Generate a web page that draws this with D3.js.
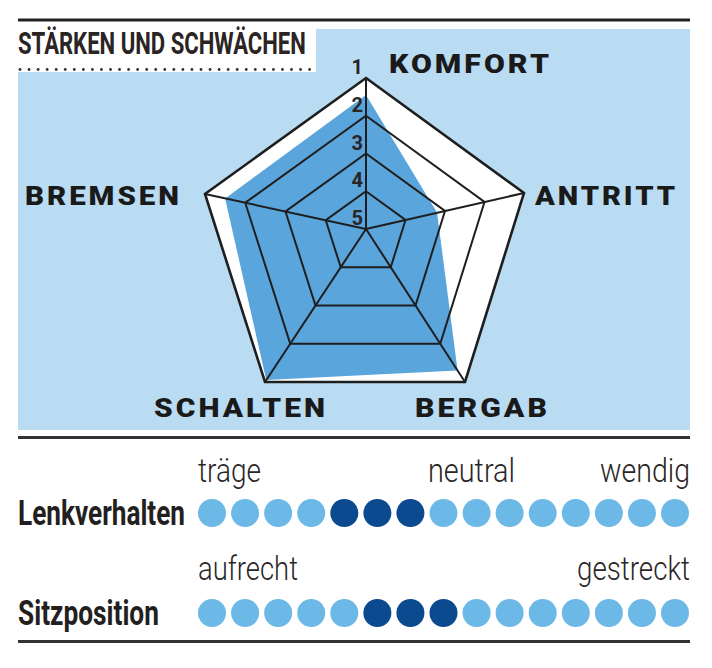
<!DOCTYPE html>
<html><head><meta charset="utf-8">
<script src="https://cdn.jsdelivr.net/npm/d3@7"></script>
<style>
html,body{margin:0;padding:0;background:#fff;}
svg{display:block;}
</style></head>
<body>
<svg id="c" width="712" height="668"></svg>
<script>
// ---- data ----
const title = "STÄRKEN UND SCHWÄCHEN";
const axes = ["KOMFORT", "ANTRITT", "BERGAB", "SCHALTEN", "BREMSEN"];
const scores = [1.45, 3.2, 1.3, 1.05, 1.5];           // 1 = best, 5 = worst
const gradeTicks = [1, 2, 3, 4, 5];
const rows = ["Lenkverhalten", "Sitzposition"];
const rowScaleLabels = [["träge", "neutral", "wendig"], ["aufrecht", "gestreckt"]];
const dotCount = 15;
const activeDots = [[4, 5, 6], [5, 6, 7]];

// ---- layout ----
const svg = d3.select("#c");
const L = 18, R = 690;
const cx = 366, cy = 229;
// outer vertex offsets of each axis (pentagon as drawn in the reference)
const axisVec = [[0, -151], [158, -36], [99, 153], [-101, 153], [-161, -35]];
const rs = d3.scaleLinear().domain([1, 5]).range([1, 0]);
const pt = (i, v) => [cx + axisVec[i][0] * rs(v), cy + axisVec[i][1] * rs(v)];
const line = d3.line().curve(d3.curveLinearClosed);

// draws a text squeezed horizontally to a given width
function fitText(parent, str, x, y, width, anchor, attrs) {
  const t = parent.append("text").text(str);
  Object.entries(attrs).forEach(([k, v]) => t.attr(k, v));
  const w = t.node().getComputedTextLength();
  const s = width / w;
  const x0 = anchor === "end" ? x - width : x;
  t.attr("transform", `translate(${x0},${y}) scale(${s},1)`);
  return t;
}

// top rule
svg.append("line").attr("x1", L).attr("x2", R).attr("y1", 20).attr("y2", 20)
  .attr("stroke", "#222").attr("stroke-width", 3);
// blue panel
svg.append("rect").attr("x", L).attr("y", 29).attr("width", R - L).attr("height", 401).attr("fill", "#badcf3");
// title box
svg.append("rect").attr("x", L).attr("y", 29).attr("width", 298).attr("height", 43).attr("fill", "#fff");
fitText(svg, title, L, 54, 288, "start", {
  "font-family": "Roboto, 'DejaVu Sans', sans-serif", "font-weight": 700,
  "font-size": 31, "fill": "#2a2424"});
svg.append("g").selectAll("circle").data(d3.range(L + 2, 316, 9.05)).join("circle")
  .attr("cx", d => d).attr("cy", 69.5).attr("r", 1.4).attr("fill", "#333");

// radar: outer white
svg.append("path").attr("d", line(axes.map((a, i) => pt(i, 1)))).attr("fill", "#fff");
// data polygon
svg.append("path").attr("d", line(scores.map((s, i) => pt(i, s)))).attr("fill", "#5aa5dc");
// grid rings
svg.append("g").selectAll("path").data([1, 2, 3, 4]).join("path")
  .attr("d", v => line(axes.map((a, i) => pt(i, v))))
  .attr("fill", "none").attr("stroke", "#1e1e1e")
  .attr("stroke-width", v => v === 1 ? 2.6 : 2).attr("stroke-linejoin", "miter");
// spokes
svg.append("g").selectAll("line").data(axes).join("line")
  .attr("x1", cx).attr("y1", cy)
  .attr("x2", (a, i) => pt(i, 1)[0]).attr("y2", (a, i) => pt(i, 1)[1])
  .attr("stroke", "#1e1e1e").attr("stroke-width", 2);
// grade numbers on top axis
svg.append("g").selectAll("text").data(gradeTicks).join("text")
  .text(d => d).attr("x", cx - 3).attr("y", d => pt(0, d)[1] - 4)
  .attr("text-anchor", "end")
  .attr("font-family", "Roboto, sans-serif").attr("font-weight", 700)
  .attr("font-size", 20).attr("fill", "#2a2424");
// axis labels
const labelPos = [[389, 73, 163], [535, 205, 143], [415, 417, 135], [154, 417, 174], [25, 205, 157]];
const lg = svg.append("g");
axes.forEach((a, i) => {
  fitText(lg, a, labelPos[i][0], labelPos[i][1], labelPos[i][2], "start", {
    "font-family": "Roboto, sans-serif", "font-weight": 900, "font-size": 25,
    "letter-spacing": 2.5, "fill": "#1a1a1a"});
});

// bottom section
svg.append("line").attr("x1", L).attr("x2", R).attr("y1", 437.5).attr("y2", 437.5)
  .attr("stroke", "#333").attr("stroke-width", 3);
svg.append("line").attr("x1", L).attr("x2", R).attr("y1", 641.5).attr("y2", 641.5)
  .attr("stroke", "#333").attr("stroke-width", 3);

const dx = d3.scaleLinear().domain([0, dotCount - 1]).range([212, 675]);
const rowY = [513, 613];
const rowLabelW = [167, 141];
const scaleLabelY = [482, 580];
const scaleLabelPos = [[[198, "start", 63], [428, "start", 87], [690, "end", 90]],
                       [[198, "start", 100], [690, "end", 113]]];
rows.forEach((name, r) => {
  fitText(svg, name, L, rowY[r] + 12, rowLabelW[r], "start", {
    "font-family": "Roboto, sans-serif", "font-weight": 700,
    "font-size": 36, "fill": "#231f1f"});
  const g = svg.append("g");
  rowScaleLabels[r].forEach((lab, i) => {
    const p = scaleLabelPos[r][i];
    fitText(g, lab, p[0], scaleLabelY[r], p[2], p[1], {
      "font-family": "Roboto, sans-serif", "font-weight": 300,
      "font-size": 33, "fill": "#2b2626"});
  });
  svg.append("g").selectAll("circle").data(d3.range(dotCount)).join("circle")
    .attr("cx", d => dx(d)).attr("cy", rowY[r]).attr("r", 14)
    .attr("fill", d => activeDots[r].includes(d) ? "#0b4a8f" : "#6cb9e7");
});
</script>
</body></html>
